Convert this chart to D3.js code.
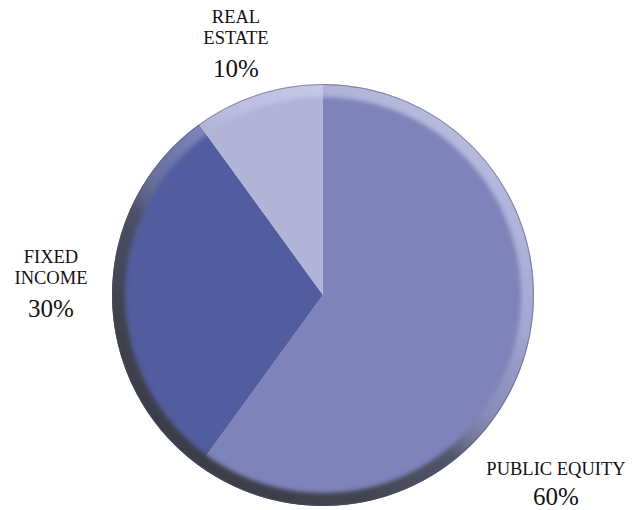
<!DOCTYPE html>
<html>
<head>
<meta charset="utf-8">
<script src="https://cdn.jsdelivr.net/npm/d3@7/dist/d3.min.js"></script>
<style>
  html, body { margin: 0; padding: 0; background: #fff; }
  svg { display: block; }
</style>
</head>
<body>
<svg id="chart" width="639" height="510"></svg>
<script>
// ---- data ----
const categories = ["PUBLIC EQUITY", "FIXED INCOME", "REAL ESTATE"];
const values = [60, 30, 10];
const labelLines = [["PUBLIC EQUITY"], ["FIXED", "INCOME"], ["REAL", "ESTATE"]];
const percentLabels = ["60%", "30%", "10%"];

// ---- style / layout ----
const colors = ["#7e83ba", "#525da0", "#b1b3d7"];
const FONT = "Liberation Serif";
const cx = 323, cy = 295, R = 211;
// label anchor: [x, y of first line]
const labelAnchors = [[556, 475], [51, 263], [236, 23]];

const svg = d3.select("#chart");
const defs = svg.append("defs");

const rim = defs.append("linearGradient").attr("id", "rim")
  .attr("x1", "0.85").attr("y1", "0.1").attr("x2", "0.2").attr("y2", "0.95");
[[0, "#e4e6f8", 0.6], [0.3, "#c4c7ea", 0.5], [0.48, "#9a9cb8", 0.35],
 [0.6, "#4a4c5a", 0.8], [0.8, "#3f414c", 0.97], [1, "#3a3c46", 1]]
  .forEach(([o, c, a]) => rim.append("stop").attr("offset", o).attr("stop-color", c).attr("stop-opacity", a));

defs.append("filter").attr("id", "soft").attr("x", "-10%").attr("y", "-10%").attr("width", "120%").attr("height", "120%")
  .append("feGaussianBlur").attr("stdDeviation", 2);

defs.append("clipPath").attr("id", "disc")
  .append("circle").attr("r", R);

const g = svg.append("g").attr("transform", `translate(${cx},${cy})`);

const pie = d3.pie().sort(null).value(d => d)(values);
const arc = d3.arc().innerRadius(0).outerRadius(R);

g.selectAll("path.slice").data(pie).join("path")
  .attr("class", "slice")
  .attr("d", arc)
  .attr("fill", (d, i) => colors[i]);

// bevel rim
const ring = d3.arc().innerRadius(R - 13).outerRadius(R + 4).startAngle(0).endAngle(2 * Math.PI);
g.append("g").attr("clip-path", "url(#disc)")
  .append("path")
  .attr("d", ring())
  .attr("fill", "url(#rim)")
  .attr("filter", "url(#soft)");

g.append("circle").attr("r", R - 0.5)
  .attr("fill", "none")
  .attr("stroke", "#50525e")
  .attr("stroke-opacity", 0.5)
  .attr("stroke-width", 1);

// ---- labels ----
const lg = svg.append("g");
categories.forEach((c, i) => {
  const [x, y] = labelAnchors[i];
  const t = lg.append("text").attr("text-anchor", "middle")
    .attr("font-family", FONT).attr("font-size", 18.5).attr("fill", "#111");
  labelLines[i].forEach((ln, k) => {
    t.append("tspan").attr("x", x).attr("y", y + k * 21).text(ln);
  });
  const n = labelLines[i].length;
  lg.append("text").attr("text-anchor", "middle")
    .attr("font-family", FONT).attr("font-size", 25).attr("fill", "#111")
    .attr("x", x).attr("y", y + (n - 1) * 21 + (n === 1 ? 30 : 33))
    .text(percentLabels[i]);
});
</script>
</body>
</html>
